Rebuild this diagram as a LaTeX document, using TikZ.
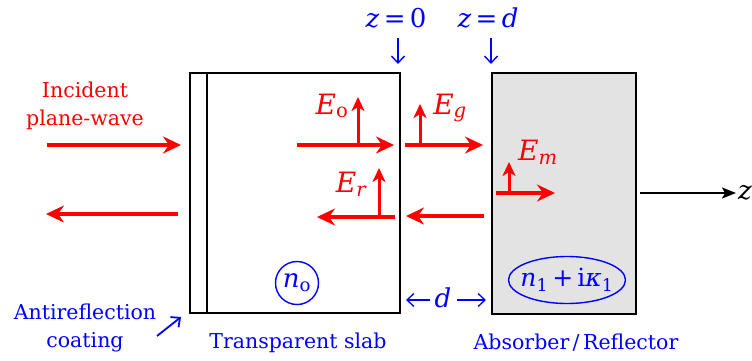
\documentclass[tikz,border=0pt]{standalone}
\usepackage{fontspec}
\setmainfont{DejaVu Serif}
\newfontfamily\dvs{DejaVu Serif}
\usetikzlibrary{arrows.meta,shapes.geometric}
\begin{document}
\begin{tikzpicture}[x=1pt,y=-1pt,
  wave/.style={draw=red,line width=4pt,-{Stealth[length=18pt,width=17pt,inset=6pt]}},
  pol/.style={draw=red,line width=3pt,-{Stealth[length=14pt,width=13pt,inset=4pt]}},
  pointer/.style={draw=blue,line width=1.4pt,-{Straight Barb[length=7pt,width=13pt]}},
  txt/.style={inner sep=0pt,font=\dvs\fontsize{20.5}{28}\selectfont},
  mlab/.style={inner sep=0pt,font=\dvs\fontsize{28}{32}\selectfont},
  zlab/.style={inner sep=0pt,font=\dvs\fontsize{26}{30}\selectfont},
  box/.style={draw=black,line width=2.4pt}]
\useasboundingbox (0,0) rectangle (752,360);
% boxes
\draw[box] (190,73) rectangle (400,313);
\draw[box] (207,73) -- (207,313);
\draw[box,fill=gray!22] (492,73) rectangle (636,314);
% top labels
\node[zlab,text=blue] (z0) at (396,18) {\textit{z}\,=\,0};
\node[zlab,text=blue] (zd) at (488,18) {\textit{z}\,=\,\textit{d}};
\coordinate (z0a) at (398,38); \coordinate (z0b) at (398,64);
\coordinate (zda) at (491,38); \coordinate (zdb) at (491,64);
\draw[pointer] (z0a) -- (z0b);
\draw[pointer] (zda) -- (zdb);
% incident
\node[txt,text=red,align=center] (inc) at (85,106) {Incident\\plane-wave};
\coordinate (i1) at (47,145); \coordinate (i2) at (181,145);
\draw[wave] (i1) -- (i2);
\coordinate (r1) at (178,214); \coordinate (r2) at (46,214);
\draw[wave] (r1) -- (r2);
% E_o
\coordinate (o1) at (297,145); \coordinate (o2) at (394,145);
\draw[wave] (o1) -- (o2);
\coordinate (ov1) at (358,146); \coordinate (ov2) at (358,97);
\draw[pol] (ov1) -- (ov2);
\node[mlab,text=red] (Eo) at (332,106) {\textit{E}\textsubscript{o}};
% E_g
\coordinate (g1) at (405,145); \coordinate (g2) at (483,145);
\draw[wave] (g1) -- (g2);
\coordinate (gv1) at (420,146); \coordinate (gv2) at (420,104);
\draw[pol] (gv1) -- (gv2);
\node[mlab,text=red] (Eg) at (450,108) {\textit{E\textsubscript{g}}};
% E_r
\coordinate (er1) at (395,217); \coordinate (er2) at (317,217);
\draw[wave] (er1) -- (er2);
\coordinate (rv1) at (379,218); \coordinate (rv2) at (379,168);
\draw[pol] (rv1) -- (rv2);
\node[mlab,text=red] (Er) at (351,184) {\textit{E\textsubscript{r}}};
% gap back wave
\coordinate (b1) at (484,216); \coordinate (b2) at (406,216);
\draw[wave] (b1) -- (b2);
% E_m
\coordinate (m1) at (496,193); \coordinate (m2) at (555,193);
\draw[wave] (m1) -- (m2);
\coordinate (mv1) at (509,194); \coordinate (mv2) at (509,162);
\draw[pol] (mv1) -- (mv2);
\node[mlab,text=red] (Em) at (538,152) {\textit{E\textsubscript{m}}};
% z axis
\coordinate (za) at (640,193); \coordinate (zb) at (736,193);
\draw[line width=1.6pt,-{Stealth[length=14pt,width=11pt,inset=3pt]}] (za) -- (zb);
\node[zlab,anchor=west] (zl) at (738,193) {\textit{z}};
% refractive indices
\node[draw=blue,line width=1.4pt,circle,minimum size=43pt,inner sep=0pt,text=blue,font=\dvs\fontsize{26}{30}\selectfont] (n0) at (297,283) {\textit{n}\textsubscript{o}};
\node[inner sep=0pt,text=blue,font=\dvs\fontsize{25}{30}\selectfont] (n1) at (567,280) {\textit{n}\textsubscript{1}\,+\,i\textit{κ}\textsubscript{1}};
\draw[blue,line width=1.4pt] (n1.center) ellipse [x radius=58.5, y radius=23.5];
% d
\node[zlab,text=blue] (dl) at (443,298) {\textit{d}};
\coordinate (dL) at (406,300); \coordinate (dR) at (486,300);
\draw[pointer,line width=1.3pt] (dl.west) ++(-4,2) -- (dL);
\draw[pointer,line width=1.3pt] (dl.east) ++(5,2) -- (dR);
% bottom labels
\node[txt,text=blue] (ts) at (298,343) {Transparent slab};
\node[txt,text=blue] (ab) at (576,343) {Absorber\,/\,Reflector};
\node[txt,text=blue,align=center] (ar) at (85,328) {Antireflection\\coating};
\coordinate (ar1) at (157,336); \coordinate (ar2) at (181,317);
\draw[pointer,line width=1.8pt] (ar1) -- (ar2);
\end{tikzpicture}
\end{document}
